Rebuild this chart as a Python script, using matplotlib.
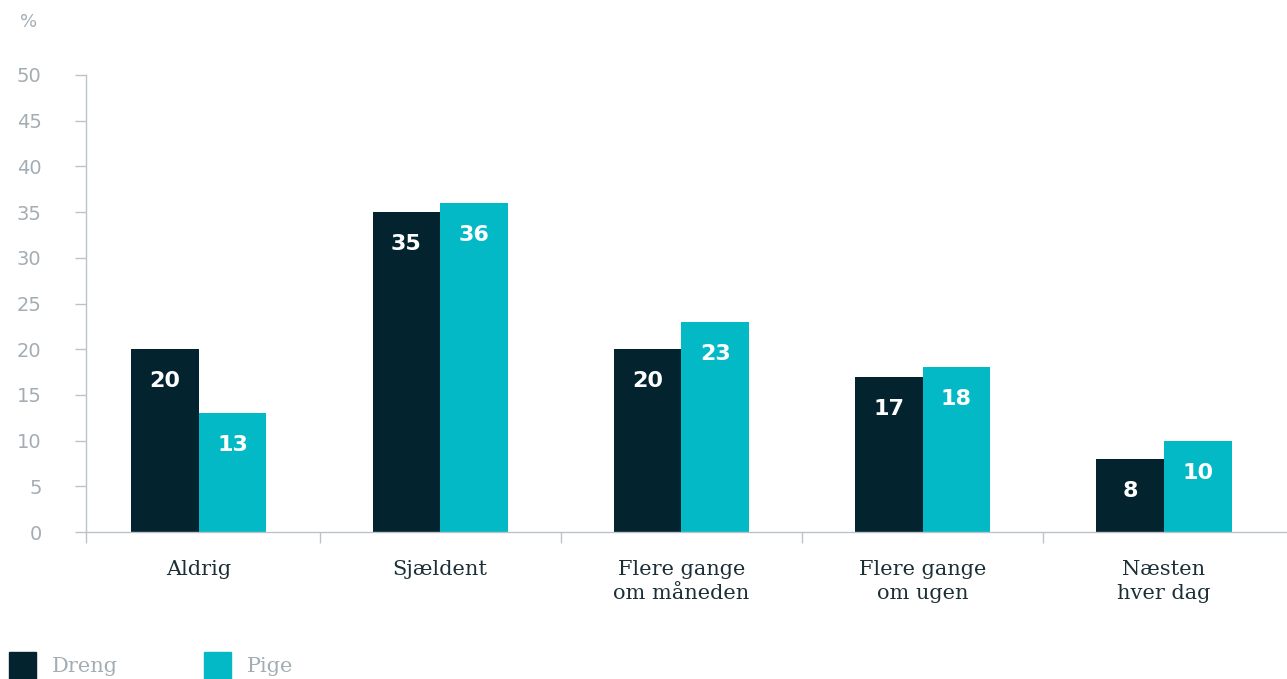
import matplotlib.pyplot as plt
import numpy as np
from matplotlib.patches import Rectangle

categories = ['Aldrig', 'Sjældent', 'Flere gange\nom måneden', 'Flere gange\nom ugen', 'Næsten\nhver dag']
dreng = [20, 35, 20, 17, 8]
pige = [13, 36, 23, 18, 10]
series_names = ['Dreng', 'Pige']

dark = '#03232e'
cyan = '#03b9c6'
grey = '#a3adb3'
axis_grey = '#b9c3c9'
label_col = '#1d2f36'

fig = plt.figure(figsize=(12.87, 6.79), dpi=100)
ax = fig.add_axes([86 / 1287, 1 - 532 / 679, 1 - 86 / 1287, (532 - 75) / 679])

x = np.arange(len(categories))
w = 0.28
b1 = ax.bar(x - w / 2, dreng, w, color=dark)
b2 = ax.bar(x + w / 2, pige, w, color=cyan)

for bars, vals in ((b1, dreng), (b2, pige)):
    for bar, v in zip(bars, vals):
        ax.annotate(str(v), (bar.get_x() + bar.get_width() / 2, v),
                    xytext=(0, -23), textcoords='offset points',
                    ha='center', va='center', color='white',
                    fontsize=16, fontweight='bold')

ax.set_xlim(-0.468, 4.51)
ax.set_ylim(0, 50)
ax.set_yticks(np.arange(0, 51, 5))
ax.tick_params(axis='y', colors=axis_grey, labelcolor=grey, labelsize=14,
               length=8, width=1, pad=24)
for t in ax.get_yticklabels():
    t.set_horizontalalignment('right')

ax.set_xticks(x)
ax.set_xticklabels(categories, fontsize=15, color=label_col, family='DejaVu Serif',
                   linespacing=1.35)
ax.tick_params(axis='x', which='major', length=0, pad=20)
ax.set_xticks(np.r_[-0.468, np.arange(0.5, 4.5, 1)], minor=True)
ax.tick_params(axis='x', which='minor', length=8, width=1, colors=axis_grey)

for s in ['top', 'right']:
    ax.spines[s].set_visible(False)
for s in ['left', 'bottom']:
    ax.spines[s].set_color(axis_grey)
    ax.spines[s].set_linewidth(1)

fig.text(20 / 1287, 1 - 22 / 679, '%', color=grey, fontsize=13, va='center')

# legend
for name, col, px in ((series_names[0], dark, 9), (series_names[1], cyan, 204)):
    fig.add_artist(Rectangle((px / 1287, 0), 27 / 1287, 27 / 679,
                             transform=fig.transFigure, color=col))
    fig.text((px + 43) / 1287, 1 - 666 / 679, name, color=grey, fontsize=15,
             family='DejaVu Serif', va='center')

fig.savefig('out.png', dpi=100)
